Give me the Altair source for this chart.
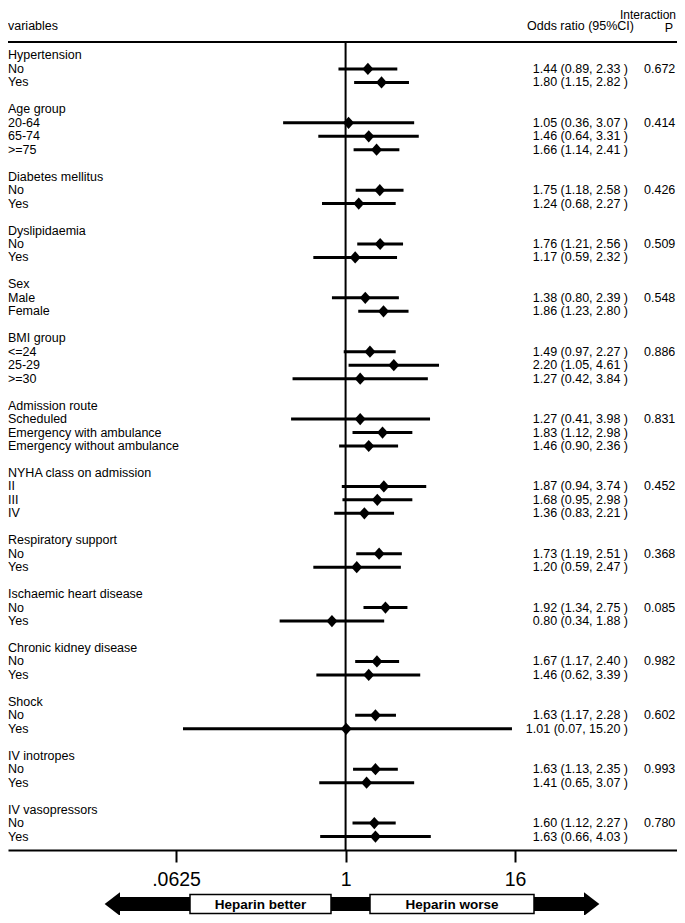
import altair as alt
import pandas as pd

# ---------------- data ----------------
groups = ["Hypertension", "Age group", "Diabetes mellitus", "Dyslipidaemia", "Sex",
          "BMI group", "Admission route", "NYHA class on admission", "Respiratory support",
          "Ischaemic heart disease", "Chronic kidney disease", "Shock", "IV inotropes",
          "IV vasopressors"]
levels = [["No", "Yes"], ["20-64", "65-74", ">=75"], ["No", "Yes"], ["No", "Yes"],
          ["Male", "Female"], ["<=24", "25-29", ">=30"],
          ["Scheduled", "Emergency with ambulance", "Emergency without ambulance"],
          ["II", "III", "IV"], ["No", "Yes"], ["No", "Yes"], ["No", "Yes"], ["No", "Yes"],
          ["No", "Yes"], ["No", "Yes"]]
odds = [[1.44, 1.80], [1.05, 1.46, 1.66], [1.75, 1.24], [1.76, 1.17], [1.38, 1.86],
        [1.49, 2.20, 1.27], [1.27, 1.83, 1.46], [1.87, 1.68, 1.36], [1.73, 1.20],
        [1.92, 0.80], [1.67, 1.46], [1.63, 1.01], [1.63, 1.41], [1.60, 1.63]]
lower = [[0.89, 1.15], [0.36, 0.64, 1.14], [1.18, 0.68], [1.21, 0.59], [0.80, 1.23],
         [0.97, 1.05, 0.42], [0.41, 1.12, 0.90], [0.94, 0.95, 0.83], [1.19, 0.59],
         [1.34, 0.34], [1.17, 0.62], [1.17, 0.07], [1.13, 0.65], [1.12, 0.66]]
upper = [[2.33, 2.82], [3.07, 3.31, 2.41], [2.58, 2.27], [2.56, 2.32], [2.39, 2.80],
         [2.27, 4.61, 3.84], [3.98, 2.98, 2.36], [3.74, 2.98, 2.21], [2.51, 2.47],
         [2.75, 1.88], [2.40, 3.39], [2.28, 15.20], [2.35, 3.07], [2.27, 4.03]]
p_interaction = ["0.672", "0.414", "0.426", "0.509", "0.548", "0.886", "0.831", "0.452",
                 "0.368", "0.085", "0.982", "0.602", "0.993", "0.780"]
tick_values = [0.0625, 1, 16]
tick_labels = [".0625", "1", "16"]

# ---------------- table ----------------
label_rows, est_rows = [], []
r = 1
for g, lv, o, lo, hi, p in zip(groups, levels, odds, lower, upper, p_interaction):
    label_rows.append({"row": r, "label": g})
    r += 1
    for i, (name, oo, l, h) in enumerate(zip(lv, o, lo, hi)):
        label_rows.append({"row": r, "label": name})
        est_rows.append({"row": r, "or": oo, "lo": l, "hi": h,
                         "ci": f"{oo:.2f} ({l:.2f}, {h:.2f} )",
                         "p": p if i == 0 else ""})
        r += 1
    r += 1
n_rows = r - 1  # bottom line position (60)

labels_df = pd.DataFrame(label_rows)
est_df = pd.DataFrame(est_rows)

# ---------------- layout constants ----------------
W, H = 669, 808
FONT = "Liberation Sans"
FS = 12.5

xscale = alt.Scale(type="log", base=2, domain=[0.004, 226], nice=False)
yscale = alt.Scale(domain=[0, n_rows], reverse=True, nice=False, zero=False)

label_expr = " : ".join(
    [f"datum.value == {v} ? '{t}'" for v, t in zip(tick_values[:-1], tick_labels[:-1])]
    + [f"'{tick_labels[-1]}'"]
)

x_axis = alt.Axis(values=tick_values, labelExpr=label_expr, title=None, grid=False,
                  domainWidth=2, domainColor="black", tickColor="black", tickWidth=2,
                  tickSize=12, labelFontSize=19.5, labelFont=FONT, labelColor="black",
                  labelPadding=8, labelFlush=False, labelOverlap=False)

ci = alt.Chart(est_df).mark_rule(strokeWidth=3, color="black").encode(
    x=alt.X("lo:Q", scale=xscale, axis=x_axis),
    x2="hi:Q",
    y=alt.Y("row:Q", scale=yscale, axis=None),
)

pts = alt.Chart(est_df).mark_point(
    shape="M0,-1L0.9,0L0,1L-0.9,0Z", filled=True, size=150, color="black", opacity=1
).encode(
    x=alt.X("or:Q", scale=xscale, axis=x_axis),
    y=alt.Y("row:Q", scale=yscale, axis=None),
)

ref = alt.Chart(pd.DataFrame({"v": [1]})).mark_rule(strokeWidth=2, color="black").encode(
    x=alt.X("v:Q", scale=xscale, axis=x_axis), y=alt.value(0), y2=alt.value(H)
)

top_line = alt.Chart(pd.DataFrame({"v": [0]})).mark_rule(strokeWidth=2, color="black").encode(
    x=alt.value(0), x2=alt.value(W), y=alt.value(0)
)

lab = alt.Chart(labels_df).mark_text(align="left", baseline="middle", font=FONT,
                                     fontSize=FS, color="black").encode(
    x=alt.value(0), y=alt.Y("row:Q", scale=yscale, axis=None), text="label:N"
)

ci_txt = alt.Chart(est_df).mark_text(align="right", baseline="middle", font=FONT,
                                     fontSize=FS, color="black").encode(
    x=alt.value(620), y=alt.Y("row:Q", scale=yscale, axis=None), text="ci:N"
)

p_txt = alt.Chart(est_df).mark_text(align="left", baseline="middle", font=FONT,
                                    fontSize=FS, color="black").encode(
    x=alt.value(636), y=alt.Y("row:Q", scale=yscale, axis=None), text="p:N"
)


def header(txt, x, y, align="left", bold=False, size=FS):
    return alt.Chart(pd.DataFrame({"t": [txt]})).mark_text(
        align=align, baseline="middle", font=FONT, fontSize=size, color="black",
        fontWeight="bold" if bold else "normal"
    ).encode(x=alt.value(x), y=alt.value(y), text="t:N")


h1 = header("variables", 0, -16)
h2 = header("Odds ratio (95%CI)", 519, -16)
h3 = header("P", 661, -14, align="center")
h4 = header("Interaction", W - 1, -27.5, align="right", size=12)

# arrow annotation below the axis
AY = 862
arrow_body = alt.Chart(pd.DataFrame({"v": [0]})).mark_rect(color="black").encode(
    x=alt.value(110), x2=alt.value(578), y=alt.value(AY - 7), y2=alt.value(AY + 7)
)
head_l = alt.Chart(pd.DataFrame({"v": [0]})).mark_point(
    shape="M-1.3,0L0,-1L0,1Z", filled=True, size=560, color="black", opacity=1
).encode(x=alt.value(112), y=alt.value(AY))
head_r = alt.Chart(pd.DataFrame({"v": [0]})).mark_point(
    shape="M1.3,0L0,-1L0,1Z", filled=True, size=560, color="black", opacity=1
).encode(x=alt.value(576), y=alt.value(AY))
box1 = alt.Chart(pd.DataFrame({"v": [0]})).mark_rect(fill="white", stroke="black",
                                                     strokeWidth=1.5).encode(
    x=alt.value(182), x2=alt.value(323), y=alt.value(AY - 9.5), y2=alt.value(AY + 9.5)
)
box2 = alt.Chart(pd.DataFrame({"v": [0]})).mark_rect(fill="white", stroke="black",
                                                     strokeWidth=1.5).encode(
    x=alt.value(362), x2=alt.value(526), y=alt.value(AY - 9.5), y2=alt.value(AY + 9.5)
)
t1 = header("Heparin better", 252.5, AY + 1, align="center", bold=True, size=13.5)
t2 = header("Heparin worse", 444, AY + 1, align="center", bold=True, size=13.5)

chart = alt.layer(
    ci, top_line, ref, pts, lab, ci_txt, p_txt, h1, h2, h3, h4,
    arrow_body, head_l, head_r, box1, box2, t1, t2
).properties(
    width=W, height=H,
    autosize=alt.AutoSizeParams(type="none"),
    padding={"left": 0, "top": 34, "right": 0, "bottom": 65},
    background="white",
).configure_view(stroke=None)

chart.save("out.html", embed_options={"renderer": "svg", "actions": False})
